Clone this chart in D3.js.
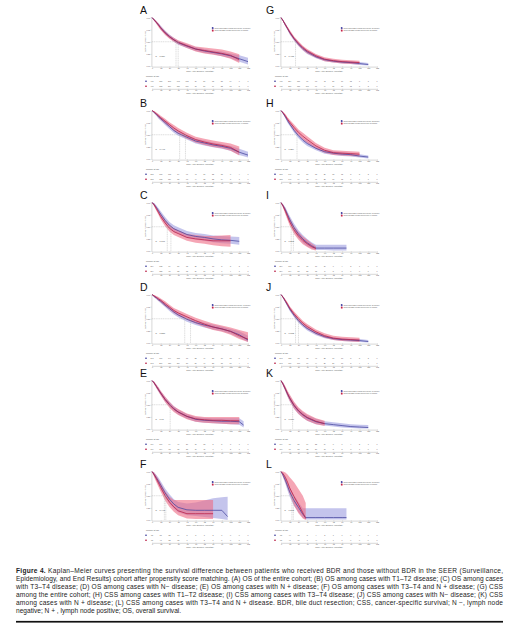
<!DOCTYPE html>
<html><head><meta charset="utf-8">
<script src="https://cdn.jsdelivr.net/npm/d3@7"></script>
<style>body{margin:0;background:#fff}svg{display:block}</style>
</head><body>
<svg id="c" width="523" height="631"></svg>
<script>
// ---------- shared ticks / labels ----------
const xTicks = [0,12,24,36,48,60,72,84,96,108,120,132];
const yTicks = [0,0.25,0.5,0.75,1];
const colX = [152, 281];
const letterX = [140, 266];
const rowY = [10, 103, 195, 287, 373, 464];
const legendBlue = "Cases without BDR (Median survival time: ";
const legendRed = "Cases with BDR (Median survival time: ";

// ---------- panel data (t months, b = without BDR, r = with BDR; s = survival, l/h = 95% CI) ----------
const panelA = {letter:"A", col:0, row:0, p:"P = 0.859", med:[33,36], mb:33, mr:36,
 t: [0,3,6,9,12,18,24,30,36,48,60,72,84,96,108,120,132],
 bs:[1,0.95,0.90,0.85,0.79,0.69,0.61,0.54,0.48,0.41,0.35,0.31,0.28,0.25,0.21,0.15,0.09],
 bl:[1,0.93,0.87,0.82,0.75,0.65,0.57,0.50,0.44,0.37,0.31,0.27,0.24,0.20,0.16,0.09,0.03],
 bh:[1,0.97,0.93,0.88,0.83,0.73,0.65,0.58,0.52,0.45,0.39,0.35,0.32,0.30,0.26,0.22,0.17],
 rs:[1,0.95,0.90,0.84,0.78,0.68,0.60,0.54,0.49,0.42,0.35,0.32,0.29,0.26,0.22,0.13],
 rl:[1,0.93,0.87,0.80,0.74,0.64,0.56,0.50,0.45,0.37,0.30,0.26,0.23,0.20,0.15,0.06],
 rh:[1,0.97,0.93,0.88,0.82,0.72,0.64,0.58,0.53,0.47,0.40,0.38,0.36,0.34,0.30,0.24],
 nb:[417,305,209,145,102,70,50,35,23,14,6,1], nr:[417,312,214,150,106,73,51,34,22,13,5,0]};
const panelB = {letter:"B", col:0, row:1, p:"P = 0.448", med:[38,46], mb:38, mr:46,
 t: [0,3,6,9,12,18,24,30,36,48,60,72,84,96,108,120,132],
 bs:[1,0.96,0.92,0.87,0.83,0.75,0.67,0.59,0.53,0.45,0.37,0.33,0.29,0.26,0.22,0.14,0.08],
 bl:[1,0.94,0.89,0.83,0.79,0.70,0.62,0.54,0.48,0.40,0.32,0.28,0.24,0.21,0.17,0.08,0.03],
 bh:[1,0.98,0.95,0.91,0.87,0.80,0.72,0.64,0.58,0.50,0.42,0.38,0.34,0.31,0.27,0.21,0.15],
 rs:[1,0.97,0.93,0.89,0.85,0.78,0.71,0.64,0.58,0.48,0.40,0.35,0.31,0.28,0.24,0.14],
 rl:[1,0.95,0.90,0.85,0.81,0.73,0.66,0.58,0.52,0.42,0.34,0.29,0.25,0.22,0.17,0.07],
 rh:[1,0.99,0.96,0.93,0.89,0.83,0.76,0.70,0.64,0.54,0.46,0.42,0.38,0.35,0.32,0.26],
 nb:[213,168,118,84,61,43,31,22,15,9,4,1], nr:[213,172,124,88,63,44,32,22,14,8,3,0]};
const panelC = {letter:"C", col:0, row:2, p:"P = 0.177", med:[21,26], mb:26, mr:21,
 t: [0,3,6,9,12,18,24,30,36,48,60,72,84,96,108,120],
 bs:[1,0.96,0.90,0.83,0.76,0.63,0.53,0.46,0.42,0.34,0.30,0.28,0.25,0.23,0.22,0.20],
 bl:[1,0.93,0.86,0.78,0.70,0.56,0.46,0.39,0.35,0.27,0.23,0.21,0.18,0.16,0.15,0.13],
 bh:[1,0.99,0.94,0.88,0.82,0.70,0.60,0.53,0.49,0.41,0.37,0.35,0.32,0.31,0.30,0.29],
 rs:[1,0.95,0.87,0.79,0.71,0.58,0.47,0.40,0.36,0.28,0.25,0.23,0.21,0.21,0.21],
 rl:[1,0.92,0.83,0.74,0.65,0.51,0.40,0.33,0.29,0.21,0.17,0.15,0.12,0.10,0.09],
 rh:[1,0.98,0.91,0.84,0.77,0.65,0.54,0.47,0.43,0.35,0.33,0.31,0.31,0.32,0.33],
 nb:[204,132,84,56,38,26,19,13,8,5,2,0], nr:[204,128,79,52,35,24,17,11,7,4,1,0]};
const panelD = {letter:"D", col:0, row:3, p:"P = 0.558", med:[45,53], mb:45, mr:53,
 t: [0,3,6,9,12,18,24,30,36,48,60,72,84,96,108,120,132],
 bs:[1,0.96,0.93,0.89,0.86,0.78,0.71,0.64,0.58,0.49,0.42,0.37,0.33,0.29,0.24,0.17,0.06],
 bl:[1,0.94,0.90,0.86,0.82,0.74,0.66,0.59,0.53,0.44,0.37,0.32,0.28,0.24,0.19,0.11,0.02],
 bh:[1,0.98,0.96,0.92,0.90,0.82,0.76,0.69,0.63,0.54,0.47,0.42,0.38,0.34,0.29,0.24,0.15],
 rs:[1,0.97,0.94,0.91,0.88,0.81,0.74,0.67,0.62,0.54,0.46,0.39,0.33,0.29,0.24,0.15,0.08],
 rl:[1,0.95,0.91,0.87,0.84,0.76,0.69,0.62,0.56,0.48,0.40,0.33,0.27,0.23,0.17,0.08,0.02],
 rh:[1,0.99,0.97,0.95,0.92,0.86,0.79,0.72,0.68,0.60,0.52,0.46,0.40,0.36,0.32,0.27,0.22],
 nb:[243,197,144,105,77,55,40,28,19,12,5,1], nr:[243,201,150,110,80,57,41,28,18,11,4,0]};
const panelE = {letter:"E", col:0, row:4, p:"P = 0.77", med:[25], mb:25, mr:25,
 t: [0,3,6,9,12,18,24,30,36,48,60,72,84,96,108,120,126],
 bs:[1,0.95,0.88,0.81,0.74,0.61,0.51,0.42,0.35,0.26,0.20,0.18,0.17,0.16,0.16,0.15,0.08],
 bl:[1,0.93,0.85,0.77,0.70,0.56,0.46,0.37,0.30,0.21,0.15,0.13,0.12,0.11,0.10,0.09,0.03],
 bh:[1,0.97,0.91,0.85,0.78,0.66,0.56,0.47,0.40,0.31,0.25,0.23,0.22,0.22,0.22,0.22,0.16],
 rs:[1,0.95,0.88,0.81,0.74,0.61,0.50,0.41,0.35,0.26,0.21,0.19,0.18,0.18,0.17,0.17],
 rl:[1,0.92,0.84,0.77,0.69,0.55,0.44,0.35,0.29,0.20,0.15,0.13,0.12,0.11,0.10,0.10],
 rh:[1,0.98,0.92,0.86,0.79,0.67,0.56,0.47,0.41,0.32,0.27,0.25,0.25,0.25,0.25,0.25],
 nb:[174,107,64,40,26,17,12,8,5,3,1,0], nr:[174,104,62,38,25,16,11,7,4,2,1,0]};
const panelF = {letter:"F", col:0, row:5, p:"P = 0.448", med:[17,19], mb:19, mr:17,
 t: [0,3,6,9,12,18,24,30,36,48,60,72,84,96,104],
 bs:[1,0.94,0.87,0.80,0.72,0.56,0.43,0.33,0.26,0.21,0.20,0.20,0.20,0.20,0.07],
 bl:[1,0.90,0.81,0.73,0.64,0.47,0.33,0.23,0.16,0.10,0.08,0.06,0.04,0.02,0.00],
 bh:[1,0.98,0.93,0.87,0.80,0.65,0.53,0.43,0.37,0.34,0.36,0.40,0.45,0.47,0.48],
 rs:[1,0.93,0.85,0.76,0.67,0.50,0.37,0.27,0.19,0.13,0.13,0.13,0.13],
 rl:[1,0.88,0.78,0.68,0.58,0.40,0.27,0.17,0.10,0.03,0.02,0.02,0.02],
 rh:[1,0.98,0.92,0.84,0.76,0.60,0.48,0.41,0.41,0.41,0.41,0.41,0.41],
 nb:[98,51,25,14,8,5,3,2,1,0,0,0], nr:[98,47,22,12,7,4,2,1,0,0,0,0]};
const panelG = {letter:"G", col:1, row:0, p:"P = 0.475", med:[20], mb:20, mr:21,
 t: [0,3,6,9,12,18,24,30,36,48,60,72,84,96,108,120],
 bs:[1,0.93,0.85,0.77,0.69,0.56,0.45,0.36,0.29,0.19,0.13,0.10,0.08,0.07,0.05,0.03],
 bl:[1,0.91,0.82,0.74,0.65,0.52,0.41,0.32,0.25,0.16,0.10,0.07,0.05,0.04,0.02,0.01],
 bh:[1,0.95,0.88,0.80,0.72,0.60,0.49,0.40,0.33,0.23,0.16,0.13,0.11,0.10,0.08,0.06],
 rs:[1,0.93,0.85,0.78,0.70,0.57,0.47,0.38,0.31,0.21,0.14,0.11,0.09,0.08,0.07],
 rl:[1,0.91,0.82,0.74,0.66,0.53,0.42,0.33,0.26,0.17,0.10,0.07,0.05,0.04,0.03],
 rh:[1,0.95,0.88,0.81,0.74,0.61,0.51,0.42,0.35,0.25,0.18,0.15,0.13,0.12,0.11],
 nb:[417,254,151,96,63,42,29,19,12,7,3,0], nr:[417,260,157,101,66,44,30,19,12,7,2,0]};
const panelH = {letter:"H", col:1, row:1, p:"P = 0.354", med:[22], mb:22, mr:27,
 t: [0,3,6,9,12,18,24,30,36,48,60,72,84,96,108,120],
 bs:[1,0.94,0.87,0.79,0.72,0.59,0.48,0.39,0.32,0.22,0.15,0.12,0.10,0.09,0.06,0.04],
 bl:[1,0.92,0.84,0.75,0.68,0.54,0.43,0.34,0.27,0.18,0.11,0.08,0.06,0.05,0.03,0.01],
 bh:[1,0.96,0.90,0.83,0.76,0.64,0.53,0.44,0.37,0.26,0.19,0.16,0.14,0.13,0.10,0.07],
 rs:[1,0.95,0.89,0.82,0.76,0.65,0.55,0.47,0.40,0.27,0.18,0.13,0.12,0.11,0.10],
 rl:[1,0.93,0.85,0.78,0.71,0.59,0.49,0.40,0.33,0.21,0.13,0.08,0.07,0.06,0.05],
 rh:[1,0.97,0.93,0.86,0.81,0.71,0.61,0.54,0.47,0.33,0.23,0.18,0.17,0.16,0.15],
 nb:[213,140,87,57,38,26,18,12,8,5,2,0], nr:[213,146,94,62,41,28,19,12,7,4,1,0]};
const panelI = {letter:"I", col:1, row:2, p:"P = 0.295", med:[14,17], mb:17, mr:14,
 t: [0,3,6,9,12,18,24,30,36,42,48,60,72,84,90],
 bs:[1,0.93,0.85,0.75,0.65,0.48,0.35,0.25,0.17,0.11,0.06,0.06,0.06,0.06,0.06],
 bl:[1,0.90,0.80,0.69,0.58,0.40,0.27,0.17,0.10,0.05,0.02,0.02,0.01,0.01,0.01],
 bh:[1,0.96,0.90,0.81,0.72,0.56,0.43,0.33,0.25,0.18,0.13,0.13,0.13,0.13,0.13],
 rs:[1,0.92,0.82,0.71,0.60,0.43,0.31,0.22,0.15,0.09,0.05],
 rl:[1,0.88,0.76,0.64,0.52,0.35,0.23,0.14,0.08,0.03,0.01],
 rh:[1,0.96,0.88,0.78,0.68,0.51,0.39,0.30,0.23,0.16,0.10],
 nb:[204,109,57,31,17,10,6,4,2,1,0,0], nr:[204,104,53,28,15,8,5,3,1,0,0,0]};
const panelJ = {letter:"J", col:1, row:3, p:"P = 0.683", med:[20,24], mb:20, mr:24,
 t: [0,3,6,9,12,18,24,30,36,48,60,72,84,96,108,120],
 bs:[1,0.94,0.86,0.78,0.70,0.57,0.46,0.37,0.30,0.20,0.13,0.09,0.07,0.06,0.05,0.03],
 bl:[1,0.92,0.83,0.75,0.66,0.53,0.42,0.33,0.26,0.16,0.10,0.06,0.04,0.03,0.02,0.01],
 bh:[1,0.96,0.89,0.81,0.74,0.61,0.50,0.41,0.34,0.24,0.16,0.12,0.10,0.09,0.08,0.06],
 rs:[1,0.94,0.87,0.80,0.72,0.60,0.50,0.41,0.34,0.23,0.15,0.10,0.08,0.07,0.06],
 rl:[1,0.92,0.84,0.76,0.68,0.55,0.45,0.36,0.29,0.18,0.11,0.06,0.04,0.03,0.02],
 rh:[1,0.96,0.90,0.84,0.76,0.65,0.55,0.46,0.39,0.28,0.20,0.15,0.13,0.12,0.11],
 nb:[243,155,95,62,41,28,19,13,8,5,2,0], nr:[243,160,100,66,44,29,20,13,8,4,1,0]};
const panelK = {letter:"K", col:1, row:4, p:"P = 0.880", med:[16], mb:16, mr:16,
 t: [0,3,6,9,12,18,24,30,36,48,60,72,84,96,108,120],
 bs:[1,0.92,0.82,0.72,0.63,0.48,0.37,0.29,0.23,0.15,0.11,0.09,0.07,0.05,0.04,0.03],
 bl:[1,0.89,0.78,0.67,0.57,0.42,0.31,0.23,0.17,0.10,0.07,0.05,0.03,0.02,0.01,0.01],
 bh:[1,0.95,0.86,0.77,0.69,0.54,0.43,0.35,0.29,0.21,0.16,0.14,0.12,0.10,0.09,0.08],
 rs:[1,0.92,0.83,0.73,0.64,0.49,0.38,0.30,0.24,0.16,0.11],
 rl:[1,0.88,0.78,0.67,0.57,0.42,0.31,0.23,0.17,0.10,0.06],
 rh:[1,0.96,0.88,0.79,0.71,0.56,0.45,0.37,0.31,0.22,0.17],
 nb:[174,99,56,34,22,14,9,6,4,2,1,0], nr:[174,96,53,32,20,13,8,5,3,1,0,0]};
const panelL = {letter:"L", col:1, row:5, p:"P = 0.345", med:[15,17], mb:15, mr:17,
 t: [0,3,6,9,12,18,24,30,34,48,60,72,84,90],
 bs:[1,0.92,0.82,0.70,0.58,0.40,0.26,0.12,0.05,0.05,0.05,0.05,0.05,0.05],
 bl:[1,0.87,0.75,0.61,0.48,0.29,0.16,0.05,0.01,0.01,0.01,0.01,0.01,0.01],
 bh:[1,0.97,0.89,0.79,0.68,0.51,0.37,0.24,0.24,0.24,0.24,0.24,0.24,0.24],
 rs:[1,0.95,0.88,0.78,0.66,0.48,0.32,0.15,0.03],
 rl:[1,0.88,0.78,0.66,0.53,0.30,0.14,0.03,0.00],
 rh:[1,1.00,0.98,0.94,0.88,0.78,0.64,0.50,0.35],
 nb:[98,44,18,8,4,2,1,1,0,0,0,0], nr:[98,41,16,7,3,1,1,0,0,0,0,0]};
const panels = [panelA,panelB,panelC,panelD,panelE,panelF,panelG,panelH,panelI,panelJ,panelK,panelL];

const captionLines = [
 "Kaplan–Meier curves presenting the survival difference between patients who received BDR and those without BDR in the SEER (Surveillance,",
 "Epidemiology, and End Results) cohort after propensity score matching. (A) OS of the entire cohort; (B) OS among cases with T1–T2 disease; (C) OS among cases",
 "with T3–T4 disease; (D) OS among cases with N− disease; (E) OS among cases with N + disease; (F) OS among cases with T3–T4 and N + disease; (G) CSS",
 "among the entire cohort; (H) CSS among cases with T1–T2 disease; (I) CSS among cases with T3–T4 disease; (J) CSS among cases with N− disease; (K) CSS",
 "among cases with N + disease; (L) CSS among cases with T3–T4 and N + disease. BDR, bile duct resection; CSS, cancer-specific survival; N −, lymph node",
 "negative; N + , lymph node positive; OS, overall survival."
];

// ---------- drawing ----------
const svg = d3.select("#c");
svg.append("rect").attr("width",523).attr("height",631).attr("fill","#fff");
const FONT = "'Liberation Sans', Arial, sans-serif";
const BLUE_FILL = "#9c9ce0", RED_FILL = "#ee6a84";
const BLUE_LINE = "#44449e", RED_LINE = "#b81c44";

function styleAxis(sel, fs){
  sel.select(".domain").attr("stroke","#8a8a8a").attr("stroke-width",0.35);
  sel.selectAll(".tick line").attr("stroke","#8a8a8a").attr("stroke-width",0.35);
  sel.selectAll(".tick text").attr("font-size",fs).attr("fill","#555").attr("font-family",FONT);
  sel.attr("font-size",null);
}

panels.forEach(p => {
  const x0 = colX[p.col], L = rowY[p.row];
  const top = L + 7.5, bot = L + 56;
  const x = d3.scaleLinear().domain([0,132]).range([x0, x0 + 96]);
  const y = d3.scaleLinear().domain([0,1]).range([bot, top]);
  const g = svg.append("g");

  g.append("text").attr("x", letterX[p.col]).attr("y", L + 3.8).text(p.letter)
    .attr("font-family", FONT).attr("font-size", 10.5).attr("fill","#111");

  // axes
  const xa = g.append("g").attr("transform", `translate(0,${bot + 0.6})`)
    .call(d3.axisBottom(x).tickValues(xTicks).tickSize(0.8).tickPadding(0.6).tickSizeOuter(0));
  styleAxis(xa, 1.9);
  const ya = g.append("g").attr("transform", `translate(${x0 - 0.6},0)`)
    .call(d3.axisLeft(y).tickValues(yTicks).tickFormat(d3.format(".2f")).tickSize(0.8).tickPadding(0.6).tickSizeOuter(0));
  styleAxis(ya, 1.8);
  g.append("text").attr("x", x(66)).attr("y", bot + 6.4).attr("text-anchor","middle")
    .attr("font-family", FONT).attr("font-size", 2.2).attr("fill","#555").text("Time After Surgery (Months)");
  g.append("text").attr("transform", `translate(${x0 - 5.6},${(top + bot) / 2}) rotate(-90)`)
    .attr("text-anchor","middle").attr("font-family", FONT).attr("font-size", 2).attr("fill","#555")
    .text("Survival Probability (%)");

  // CI bands and curves
  const groups = [
    {s:p.bs, l:p.bl, h:p.bh, fill:BLUE_FILL, line:BLUE_LINE},
    {s:p.rs, l:p.rl, h:p.rh, fill:RED_FILL, line:RED_LINE}
  ];
  groups.forEach(gr => {
    const pts = gr.s.map((v, i) => ({t:p.t[i], s:v, l:gr.l[i], h:gr.h[i]}));
    g.append("path").datum(pts).attr("fill", gr.fill).attr("fill-opacity", 0.6)
      .attr("d", d3.area().x(d => x(d.t)).y0(d => y(d.l)).y1(d => y(d.h)));
  });
  groups.forEach(gr => {
    const pts = gr.s.map((v, i) => ({t:p.t[i], s:v}));
    g.append("path").datum(pts).attr("fill","none").attr("stroke", gr.line).attr("stroke-width", 0.75)
      .attr("d", d3.line().x(d => x(d.t)).y(d => y(d.s)));
  });

  // median lines
  const mMax = d3.max(p.med);
  g.append("line").attr("x1", x0).attr("x2", x(mMax)).attr("y1", y(0.5)).attr("y2", y(0.5))
    .attr("stroke","#a8a8a8").attr("stroke-width",0.4).attr("stroke-dasharray","1.2,0.6");
  p.med.forEach(m => {
    g.append("line").attr("x1", x(m)).attr("x2", x(m)).attr("y1", y(0.5)).attr("y2", bot)
      .attr("stroke","#a8a8a8").attr("stroke-width",0.4).attr("stroke-dasharray","1.2,0.6");
  });

  // p value
  g.append("text").attr("x", x0 + 3.5).attr("y", y(0.19)).text(p.p)
    .attr("font-family", FONT).attr("font-size", 2.2).attr("fill","#444");

  // legend
  const lx = x0 + 60, ly = L + 17.5;
  [[BLUE_FILL, legendBlue + p.mb + " months)"], [RED_FILL, legendRed + p.mr + " months)"]].forEach((d, i) => {
    g.append("rect").attr("x", lx).attr("y", ly + i * 2.4).attr("width", 1.7).attr("height", 1.6)
      .attr("fill", d[0]).attr("stroke", i ? RED_LINE : BLUE_LINE).attr("stroke-width", 0.25);
    g.append("text").attr("x", lx + 2.5).attr("y", ly + i * 2.4 + 1.4).text(d[1])
      .attr("font-family", FONT).attr("font-size", 1.5).attr("fill","#555");
  });

  // number at risk
  g.append("text").attr("x", x0 - 6).attr("y", bot + 11.3).text("Number at risk")
    .attr("font-family", FONT).attr("font-size", 2).attr("fill","#555");
  [[p.nb, BLUE_LINE], [p.nr, RED_LINE]].forEach((d, i) => {
    const ry = bot + 16 + i * 5;
    g.append("rect").attr("x", x0 - 7).attr("y", ry - 1.3).attr("width", 2).attr("height", 1).attr("fill", d[1]);
    g.selectAll(null).data(d[0]).enter().append("text")
      .attr("x", (v, k) => x(xTicks[k])).attr("y", ry).attr("text-anchor","middle")
      .attr("font-family", FONT).attr("font-size", 1.8).attr("fill","#555").text(v => v);
  });
  const xa2 = g.append("g").attr("transform", `translate(0,${bot + 22.8})`)
    .call(d3.axisBottom(x).tickValues(xTicks).tickSize(0.8).tickPadding(0.5).tickSizeOuter(0));
  styleAxis(xa2, 1.8);
  g.append("text").attr("x", x(66)).attr("y", bot + 28).attr("text-anchor","middle")
    .attr("font-family", FONT).attr("font-size", 2.2).attr("fill","#555").text("Time After Surgery (Months)");
});

// ---------- caption ----------
const capX = 16, capW = 487, capY0 = 572.7, capDY = 8.15;
captionLines.forEach((line, i) => {
  const t = svg.append("text").attr("x", capX).attr("y", capY0 + i * capDY)
    .attr("font-family", FONT).attr("font-size", 6.6).attr("fill","#222");
  if (i === 0) {
    t.append("tspan").attr("font-weight","bold").text("Figure 4. ");
  }
  t.append("tspan").text(line);
  if (i < captionLines.length - 1) t.attr("textLength", capW).attr("lengthAdjust","spacing");
});
svg.append("rect").attr("x", capX).attr("y", 620.9).attr("width", capW).attr("height", 1.7).attr("fill","#111");
</script>
</body></html>
